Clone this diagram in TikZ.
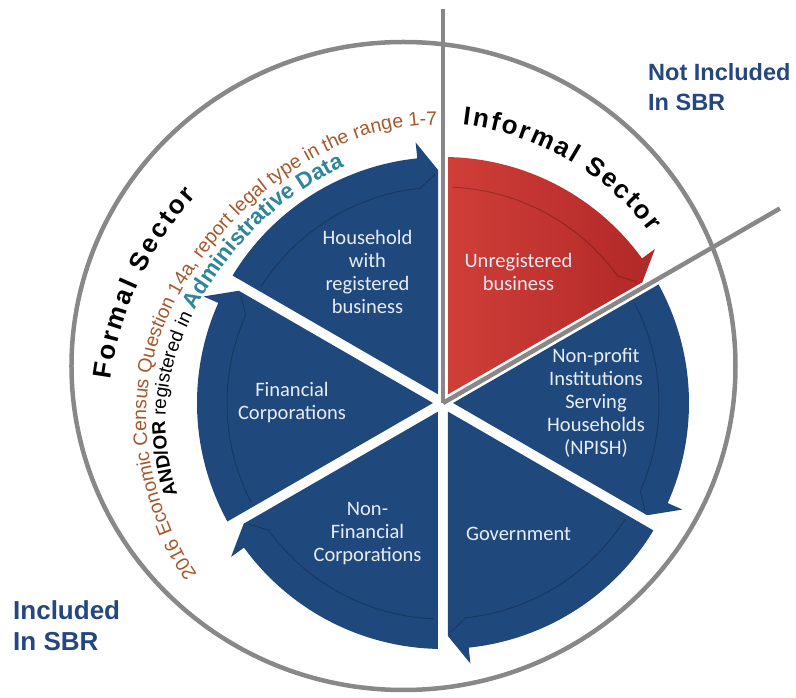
\documentclass[tikz,border=0pt]{standalone}
\usepackage{fontspec}
\setmainfont{Carlito}
\newfontfamily\outerfont{Liberation Sans}
\usetikzlibrary{decorations.text}

\definecolor{segblue}{RGB}{31,73,125}
\definecolor{redlight}{RGB}{208,62,56}
\definecolor{reddark}{RGB}{176,40,40}
\definecolor{labelwhite}{RGB}{232,236,244}
\definecolor{rimgray}{RGB}{136,136,136}
\definecolor{censusbrown}{RGB}{166,88,44}
\definecolor{admteal}{RGB}{49,133,155}
\definecolor{sbrblue}{RGB}{37,71,128}

\newcommand{\SegFont}{\fontsize{20.5}{23}\selectfont}
\newcommand{\SectorStyle}{\outerfont\bfseries\fontsize{26}{29}\selectfont}
\newcommand{\CensusStyle}{\outerfont\fontsize{19.5}{22}\selectfont\color{censusbrown}}
\newcommand{\AndStyle}{\outerfont\bfseries\fontsize{19}{22}\selectfont\color{black}}
\newcommand{\RegStyle}{\outerfont\mdseries\fontsize{19}{22}\selectfont\color{black}}
\newcommand{\AdmStyle}{\outerfont\bfseries\fontsize{22.5}{25}\selectfont\color{admteal}}

\begin{document}
\begin{tikzpicture}[x=1pt,y=1pt]
	\tikzstyle{segment} = [fill=segblue]
	\tikzstyle{ringline} = [draw=black, line width=1pt, opacity=.22]
	\tikzstyle{rim} = [draw=rimgray, line width=4.5pt]
	\tikzstyle{seglabel} = [text=labelwhite, align=center, font=\SegFont]
	\tikzstyle{sbr} = [text=sbrblue, align=left, anchor=north west, inner sep=0pt]

	\useasboundingbox (-443,-295) rectangle (353,403);
	\coordinate (hub) at (0,0);

	% blue segments, arrows run clockwise
	\foreach \s [evaluate=\s as \e using \s-60] in {150,30,-30,-90,-150}
		\fill[segment] (\s-30:10) -- (\s-1.2:246) arc[start angle=\s-1.2, end angle=\e+6, radius=246]
			-- (\e+6:262) -- (\e+1.2:233) -- cycle;
	\shade[left color=redlight, right color=reddark] (60:10) -- (88.8:246) arc[start angle=88.8, end angle=36, radius=246]
			-- (36:262) -- (31.2:233) -- cycle;
	\foreach \s [evaluate=\s as \e using \s-60] in {150,90,30,-30,-90,-150}
		\draw[ringline] (\s-2.5:216) arc[start angle=\s-2.5, end angle=\e+6, radius=216] -- (\e+2:229);

	\node(Household)[seglabel] at (120:151){Household\\with\\registered\\business};
	\node(Unregistered)[seglabel] at (60:151){Unregistered\\business};
	\node(NPISH)[seglabel] at (0:153){Non-profit\\Institutions\\Serving\\Households\\(NPISH)};
	\node(Government)[seglabel] at (-60:151){Government};
	\node(NonFinancial)[seglabel] at (-120:151){Non-\\Financial\\Corporations};
	\node(Financial)[seglabel] at (180:151){Financial\\Corporations};

	% rim and dividers
	\coordinate (rimcentre) at (-39.5,37);
	\coordinate (topend) at (0,394);
	\coordinate (rayend) at (30:389);
	\draw[rim] (rimcentre) ellipse [x radius=332, y radius=324];
	\draw[rim] (hub) -- (topend);
	\draw[rim] (hub) -- (rayend);

	% texts along the rim
	\path[decorate, decoration={text along path, text align={fit to path},
		text={|\SectorStyle|Formal Sector}}] (176:333) arc[start angle=172.55, end angle=137.55, radius=337];
	\path[decorate, decoration={text along path, text align={fit to path},
		text={|\SectorStyle|Informal Sector}}] (86:279) arc[start angle=83.1, end angle=37.1, radius=276.5];
	\path[decorate, decoration={text along path, text align=center,
		text={|\CensusStyle|2016 Economic Census Question 14a, report legal type in the range 1-7}}]
		plot coordinates {(220:300) (215:300) (210:300) (205:300) (200:299.5) (195:299) (190:298.6)
			(185:298) (180:296.5) (175:295) (170:292.5) (165:290) (160:287) (155:284) (150:281.5)
			(145:279.5) (140:278) (135:277) (130:276.5) (125:276.5) (120:276.5) (115:277) (110:278)
			(105:279) (100:279) (95:278.5) (90:278) (85.7:278)};
	\path[decorate, decoration={text along path, text align=center,
		text={|\AndStyle|AND/OR |\RegStyle|registered in |\AdmStyle|Administrative Data}}]
		plot coordinates {(205:282) (200:281.2) (195:280.6) (190:280) (185:278.7) (180:277)
			(175:274.4) (170:271.5) (165:268.2) (160:265) (155:262.3) (150:259.8) (145:257.8) (140:256.5)
			(135:256) (130:255.5) (125:255.5) (120:255.5) (115:256) (110:256.5) (106:257)};

	\node(NotIncluded)[sbr, font=\outerfont\bfseries\fontsize{23.5}{30}\selectfont] at (205,340){Not Included\\In SBR};
	\node(Included)[sbr, font=\outerfont\bfseries\fontsize{26}{31}\selectfont] at (-430,-197){Included\\In SBR};
\end{tikzpicture}
\end{document}
